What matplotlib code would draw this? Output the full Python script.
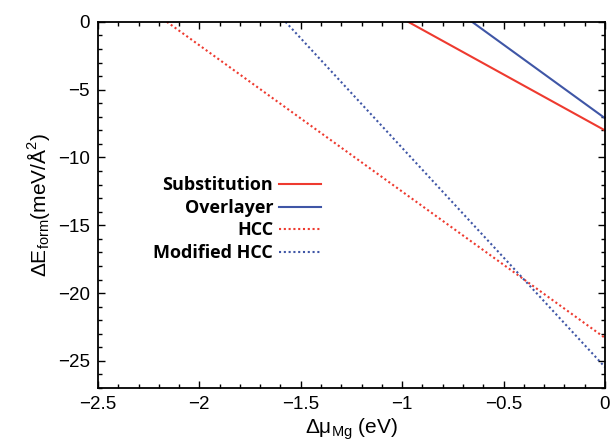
import matplotlib
matplotlib.use('Agg')
import matplotlib.pyplot as plt
from matplotlib.ticker import MultipleLocator

plt.rcParams.update({'font.family': 'Liberation Sans', 'font.size': 13,
                     'mathtext.fontset': 'custom', 'mathtext.rm': 'Liberation Sans'})

# each phase: line from (x where dE = 0, 0) to (0, dE at dmu = 0)
labels = ['Substitution', 'Overlayer', 'HCC', 'Modified HCC']
x_zero = [-0.97, -0.655, -2.16, -1.575]
y_end = [-8.0, -7.1, -23.3, -25.45]
colors = ['#ee3a2f', '#3f56a6', '#ee3a2f', '#3f56a6']
styles = ['-', '-', (0, (1, 1.3)), (0, (1, 1.3))]

fig = plt.figure(figsize=(6.16, 4.46), dpi=100)
ax = fig.add_axes([0.159, 0.130, 0.823, 0.821])

for lab, x0, y1, c, ls in zip(labels, x_zero, y_end, colors, styles):
    ax.plot([x0, 0], [0, y1], color=c, linestyle=ls, linewidth=1.5, label=lab)

ax.set_xlim(-2.5, 0)
ax.set_ylim(-27, 0)
ax.xaxis.set_minor_locator(MultipleLocator(0.1))
ax.yaxis.set_minor_locator(MultipleLocator(1))
ax.set_xticks([-2.5, -2, -1.5, -1, -0.5, 0])
ax.set_xticklabels(['\u22122.5', '\u22122', '\u22121.5', '\u22121', '\u22120.5', '0'])
ax.set_yticks([0, -5, -10, -15, -20, -25])
ax.set_yticklabels(['0', '\u22125', '\u221210', '\u221215', '\u221220', '\u221225'])
ax.tick_params(which='both', direction='in', top=True, right=True, width=1.0)
ax.tick_params(which='major', length=5, labelsize=13.5, pad=6)
ax.tick_params(which='minor', length=3)
for sp in ax.spines.values():
    sp.set_linewidth(1.3)

ax.set_xlabel('\u0394\u03bc$_{\\mathregular{Mg}}$ (eV)', fontsize=15, labelpad=2)
ax.set_ylabel('\u0394E$_{\\mathregular{form}}$(meV/\u00c5$^{\\mathregular{2}}$)', fontsize=15, labelpad=4)

leg = ax.legend(loc='upper right', bbox_to_anchor=(0.44, 0.578), frameon=False,
                markerfirst=False, handlelength=2.3, handletextpad=0.35,
                labelspacing=0.25, borderpad=0, borderaxespad=0,
                prop={'family': 'Open Sans', 'weight': 'bold', 'size': 13})
for t in leg.get_texts():
    t.set_ha('right')
leg._legend_box.align = 'right'

fig.savefig('out.png', dpi=100)
